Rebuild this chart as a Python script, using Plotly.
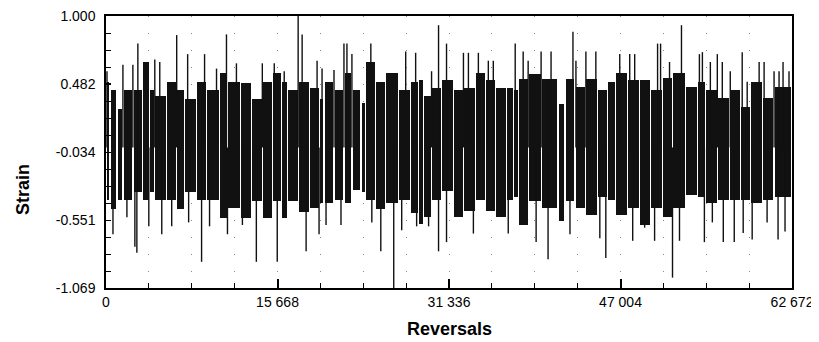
import plotly.graph_objects as go

# ---- data ----
# block boundaries along the reversal axis
block_edges = [0, 360, 1000, 1550, 2460, 3370, 4000, 4460, 5550, 6460, 7190, 8280, 9190,
               10370, 11100, 12280, 13280, 14280, 15190, 16010, 16560, 17560, 18560, 19470,
               19920, 20830, 21740, 22470, 23290, 23740, 24650, 25560, 26740, 27830, 28560,
               29020, 29740, 30650, 31750, 32660, 33750, 34660, 35570, 36570, 37200, 37660,
               38570, 39750, 41300, 41930, 42840, 43840, 44930, 45840, 46570, 47660, 48760,
               49760, 50850, 51760, 52940, 54030, 54760, 55850, 56940, 57940, 58850, 59940,
               61030, 62672]
# upper and lower strain envelope of each block
block_upper = [0.50, 0.44, 0.29, 0.44, 0.44, 0.65, 0.44, 0.39, 0.50, 0.44, 0.37, 0.50, 0.44,
               0.565, 0.50, 0.49, 0.37, 0.50, 0.565, 0.50, 0.44, 0.50, 0.45, 0.37, 0.50, 0.44,
               0.57, 0.44, 0.34, 0.65, 0.50, 0.57, 0.44, 0.50, 0.51, 0.39, 0.45, 0.51, 0.44,
               0.45, 0.565, 0.51, 0.45, 0.45, 0.44, 0.52, 0.56, 0.52, 0.33, 0.52, 0.46, 0.52,
               0.44, 0.50, 0.57, 0.51, 0.51, 0.44, 0.53, 0.57, 0.46, 0.50, 0.44, 0.38, 0.44,
               0.31, 0.50, 0.38, 0.46]
block_lower = [-0.40, -0.47, -0.40, -0.40, -0.34, -0.40, -0.34, -0.40, -0.40, -0.47, -0.34,
               -0.40, -0.40, -0.54, -0.46, -0.54, -0.41, -0.54, -0.41, -0.54, -0.41, -0.49,
               -0.46, -0.42, -0.42, -0.40, -0.42, -0.32, -0.34, -0.40, -0.47, -0.42, -0.40,
               -0.50, -0.58, -0.53, -0.40, -0.33, -0.53, -0.48, -0.40, -0.48, -0.53, -0.40,
               -0.38, -0.59, -0.41, -0.46, -0.56, -0.41, -0.46, -0.51, -0.38, -0.40, -0.51,
               -0.46, -0.59, -0.46, -0.53, -0.46, -0.36, -0.38, -0.42, -0.40, -0.40, -0.40,
               -0.42, -0.40, -0.38]

# isolated large reversals (peaks)
peak_x = [90, 1546, 2456, 2911, 4457, 4912, 6458, 7459, 9005, 10097, 11006, 11916, 14281,
          15372, 16282, 17555, 17919, 19284, 19738, 20830, 21739, 22012, 22467, 24195, 27379,
          28289, 29744, 30381, 31109, 32655, 33109, 34019, 34929, 35383, 37385, 38112, 38567,
          39750, 40659, 42660, 42933, 43843, 44752, 46935, 47845, 48300, 50392, 50665, 51483,
          52575, 54212, 54485, 55213, 55849, 56304, 57032, 58123, 58578, 59670, 60124, 61034,
          61489, 61853, 62399]
peak_y = [0.58, 0.63, 0.63, 0.79, 0.67, 0.65, 0.855, 0.71, 0.71, 0.60, 0.86, 0.64, 0.64,
          0.64, 0.58, 1.00, 0.86, 0.66, 0.60, 0.59, 0.79, 0.79, 0.71, 0.79, 0.73,
          0.72, 0.58, 0.93, 0.79, 0.72, 0.72, 0.72, 0.66, 0.66, 0.79, 0.73, 0.66,
          0.73, 0.73, 0.88, 0.66, 0.73, 0.73, 0.71, 0.71, 0.71, 0.79, 0.79, 0.65,
          0.93, 0.71, 0.725, 0.65, 0.71, 0.65, 0.58, 0.725, 0.50, 0.65, 0.65, 0.58,
          0.58, 0.65, 0.58]
# isolated large reversals (valleys)
valley_x = [637, 1910, 2638, 2820, 3911, 5094, 6003, 7550, 8732, 9460, 11097, 12462, 13735,
            15645, 18283, 19465, 20102, 21467, 24286, 25105, 26287, 27015, 28380, 29471,
            30381, 31109, 33564, 36748, 38112, 39295, 40386, 42388, 45116, 45662, 48118,
            49209, 50119, 51756, 52393, 54667, 55394, 56395, 57396, 58214, 59033, 60397,
            61398, 62035]
valley_y = [-0.66, -0.53, -0.755, -0.80, -0.60, -0.66, -0.60, -0.57, -0.87, -0.60, -0.66,
            -0.59, -0.87, -0.87, -0.79, -0.66, -0.59, -0.59, -0.57, -0.79, -1.069, -0.63,
            -0.60, -0.60, -0.79, -0.72, -0.655, -0.655, -0.59, -0.72, -0.85, -0.66, -0.69,
            -0.84, -0.71, -0.61, -0.71, -0.99, -0.71, -0.72, -0.57, -0.72, -0.72, -0.65,
            -0.70, -0.57, -0.70, -0.64]

x_tick_vals = [0, 15668, 31336, 47004, 62672]
x_tick_text = ["0", "15 668", "31 336", "47 004", "62 672"]
y_tick_vals = [1.000, 0.4828, -0.0345, -0.5518, -1.069]
y_tick_text = ["1.000", "0.482", "-0.034", "-0.551", "-1.069"]

# ---- figure ----
# the page body has an 8 px margin, so the figure starts 8 px in from the window;
# the figure is kept at full window size so nothing at the right/bottom is clipped
PAGE_OFF = 8
W, H = 819, 342
plot_left, plot_top, plot_w, plot_h = 106, 16, 686, 272   # page pixels
ML, MT = plot_left - PAGE_OFF, plot_top - PAGE_OFF
MR = W - ML - plot_w
MB = H - MT - plot_h
xmax = 62672
gap = 1.2 * xmax / plot_w  # thin white separation between blocks

centers = [(a + b) / 2 for a, b in zip(block_edges[:-1], block_edges[1:])]
widths = [max(b - a - gap, gap) for a, b in zip(block_edges[:-1], block_edges[1:])]
heights = [u - l for u, l in zip(block_upper, block_lower)]

spk_x, spk_y = [], []
for xv, yv in list(zip(peak_x, peak_y)) + list(zip(valley_x, valley_y)):
    spk_x += [xv, xv, None]
    spk_y += [0, yv, None]

fig = go.Figure()
fig.add_trace(go.Bar(x=centers, y=heights, base=block_lower, width=widths,
                     marker=dict(color="#111111", line=dict(width=0)),
                     hoverinfo="skip", showlegend=False))
fig.add_trace(go.Scatter(x=spk_x, y=spk_y, mode="lines",
                         line=dict(color="#111111", width=1.4),
                         hoverinfo="skip", showlegend=False))

font = "Liberation Sans, Arial, Helvetica, sans-serif"
period = plot_h / 16.0
dots = "1px,%.3fpx" % (period - 1)


def page_to_paper_x(px):
    return (px - plot_left) / plot_w


def page_to_paper_y(py):
    return (plot_top + plot_h - py) / plot_h


fig.update_layout(
    width=W, height=H,
    margin=dict(l=ML, r=MR, t=MT, b=MB, autoexpand=False),
    paper_bgcolor="white", plot_bgcolor="white",
    barmode="overlay", bargap=0,
    font=dict(family=font, size=14, color="black"),
    xaxis=dict(range=[0, xmax], tickmode="array", tickvals=x_tick_vals, ticktext=x_tick_text,
               ticks="inside", ticklen=9, tickwidth=1.5, tickcolor="black",
               showline=True, mirror=True, linecolor="black", linewidth=1.5,
               showgrid=True, gridcolor="#888888", gridwidth=1.2, griddash=dots,
               zeroline=False, tickfont=dict(size=14), automargin=False,
               ticklabeloverflow="allow",
               minor=dict(dtick=xmax / 16, tick0=0, ticks="inside", ticklen=5,
                          tickwidth=1.2, tickcolor="black", showgrid=True,
                          gridcolor="#888888", gridwidth=1.2, griddash=dots)),
    yaxis=dict(range=[-1.069, 1.000], tickmode="array", tickvals=y_tick_vals,
               ticktext=y_tick_text, ticks="inside", ticklen=5, tickwidth=1.2,
               tickcolor="black", showline=True, mirror=True, linecolor="black",
               linewidth=1.5, showgrid=False, zeroline=False, tickfont=dict(size=14),
               ticklabelstandoff=6, automargin=False, ticklabeloverflow="allow",
               minor=dict(dtick=2.069 / 16, tick0=-1.069, ticks="inside", ticklen=5,
                          tickwidth=1.2, tickcolor="black", showgrid=False)),
    annotations=[
        dict(text="<b>Strain</b>", xref="paper", yref="paper",
             x=page_to_paper_x(23), y=page_to_paper_y(190), textangle=-90,
             showarrow=False, font=dict(size=18, family=font), xanchor="center",
             yanchor="middle"),
        dict(text="<b>Reversals</b>", xref="paper", yref="paper",
             x=page_to_paper_x(449), y=page_to_paper_y(329),
             showarrow=False, font=dict(size=18, family=font), xanchor="center",
             yanchor="middle"),
    ],
)

fig.write_html("out.html")
